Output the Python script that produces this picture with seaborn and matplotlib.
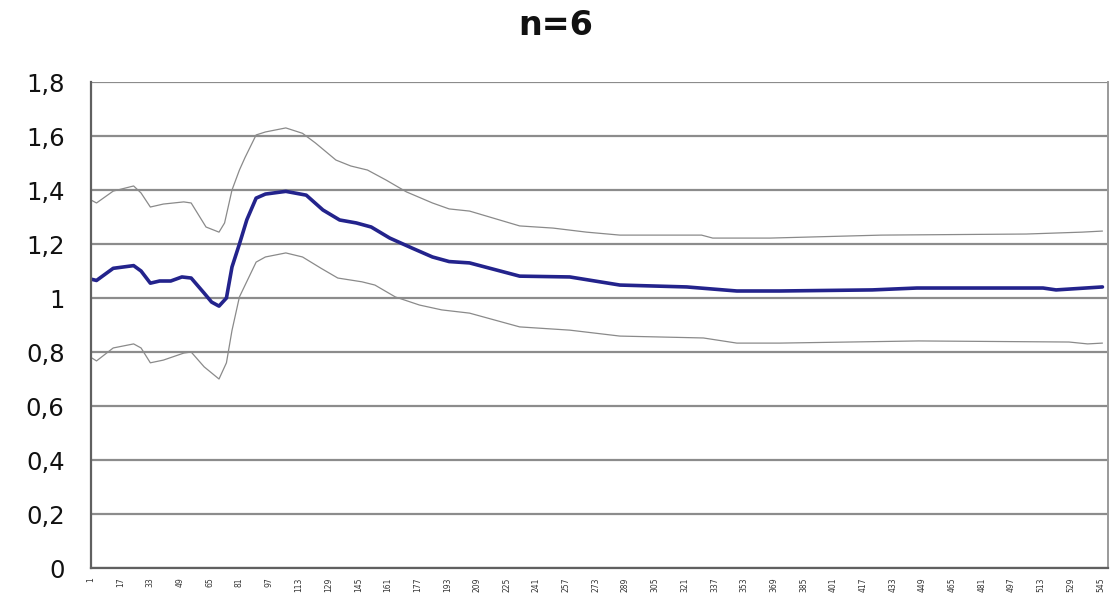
import pandas as pd
import seaborn as sns
import matplotlib.pyplot as plt

# Values (day index -> ratio)
mean_days = [1, 4, 13, 24, 28, 33, 38, 44, 50, 55, 62, 66, 70, 74, 77, 81, 85, 90, 95,
             106, 117, 126, 135, 144, 152, 162, 174, 185, 194, 205, 232, 259, 286, 322,
             349, 372, 422, 446, 514, 521, 546]
mean_vals = [1.07, 1.065, 1.11, 1.12, 1.10, 1.055, 1.063, 1.063, 1.078, 1.074, 1.018, 0.985,
             0.97, 1.0, 1.115, 1.20, 1.29, 1.37, 1.385, 1.395, 1.381, 1.326, 1.289, 1.278,
             1.263, 1.222, 1.185, 1.152, 1.135, 1.13, 1.081, 1.078, 1.048, 1.041, 1.026,
             1.026, 1.03, 1.037, 1.037, 1.03, 1.041]

upper_days = [1, 4, 13, 24, 28, 33, 40, 51, 55, 63, 70, 73, 77, 81, 84, 90, 95, 106, 115,
              122, 133, 141, 150, 160, 171, 185, 194, 205, 232, 250, 268, 286, 330, 336,
              367, 427, 505, 535, 546]
upper_vals = [1.363, 1.352, 1.396, 1.415, 1.389, 1.337, 1.348, 1.356, 1.352, 1.263, 1.244,
              1.278, 1.40, 1.474, 1.52, 1.604, 1.615, 1.63, 1.61, 1.574, 1.511, 1.489, 1.474,
              1.437, 1.393, 1.352, 1.33, 1.322, 1.267, 1.259, 1.244, 1.233, 1.233, 1.222,
              1.222, 1.233, 1.237, 1.244, 1.248]

lower_days = [1, 4, 13, 24, 28, 33, 40, 51, 55, 62, 70, 74, 77, 81, 90, 95, 106, 115, 125,
              134, 147, 154, 165, 178, 190, 205, 232, 259, 286, 331, 349, 372, 447, 528,
              538, 546]
lower_vals = [0.78, 0.767, 0.815, 0.83, 0.815, 0.76, 0.77, 0.796, 0.80, 0.745, 0.70, 0.76,
              0.88, 1.004, 1.133, 1.152, 1.167, 1.152, 1.11, 1.074, 1.06, 1.048, 1.004, 0.974,
              0.956, 0.944, 0.893, 0.881, 0.859, 0.852, 0.833, 0.833, 0.841, 0.837, 0.83, 0.833]

x_ticks = list(range(1, 546, 16))
y_ticks = [0, 0.2, 0.4, 0.6, 0.8, 1.0, 1.2, 1.4, 1.6, 1.8]
y_labels = ['0', '0,2', '0,4', '0,6', '0,8', '1', '1,2', '1,4', '1,6', '1,8']

sns.set_style("white")
plt.rcParams['font.family'] = ['DejaVu Sans']

fig = plt.figure(figsize=(11.2, 6.04), dpi=100)
ax = fig.add_axes([0.0812, 0.0596, 0.9081, 0.8046])

# Horizontal gridlines
for y in y_ticks:
    ax.axhline(y, color='#8c8c8c', linewidth=1.6, zorder=0)

sns.lineplot(x=upper_days, y=upper_vals, ax=ax, color='#8a8a8a', linewidth=0.9)
sns.lineplot(x=lower_days, y=lower_vals, ax=ax, color='#8a8a8a', linewidth=0.9)
sns.lineplot(x=mean_days, y=mean_vals, ax=ax, color='#23238c', linewidth=2.6)

ax.set_xlim(1, 549)
ax.set_ylim(0, 1.8)
ax.set_yticks(y_ticks)
ax.set_yticklabels(y_labels, fontsize=17.5, color='#111111')
ax.set_xticks(x_ticks)
ax.set_xticklabels([str(t) for t in x_ticks], rotation=90, fontsize=5.5, color='#333333')
ax.tick_params(axis='y', direction='out', length=9, width=1.2, color='#707070', pad=10)
ax.tick_params(axis='x', direction='out', length=4, width=0.8, color='#707070', pad=3)

for side in ['left', 'bottom']:
    ax.spines[side].set_color('#606060')
    ax.spines[side].set_linewidth(1.6)
ax.spines['right'].set_color('#9a9a9a')
ax.spines['right'].set_linewidth(1.4)
ax.spines['top'].set_visible(False)

fig.text(0.496, 0.957, 'n=6', ha='center', va='center', fontsize=24, fontweight='bold',
         color='#111111')

plt.savefig('out.png', dpi=100)
plt.close()
